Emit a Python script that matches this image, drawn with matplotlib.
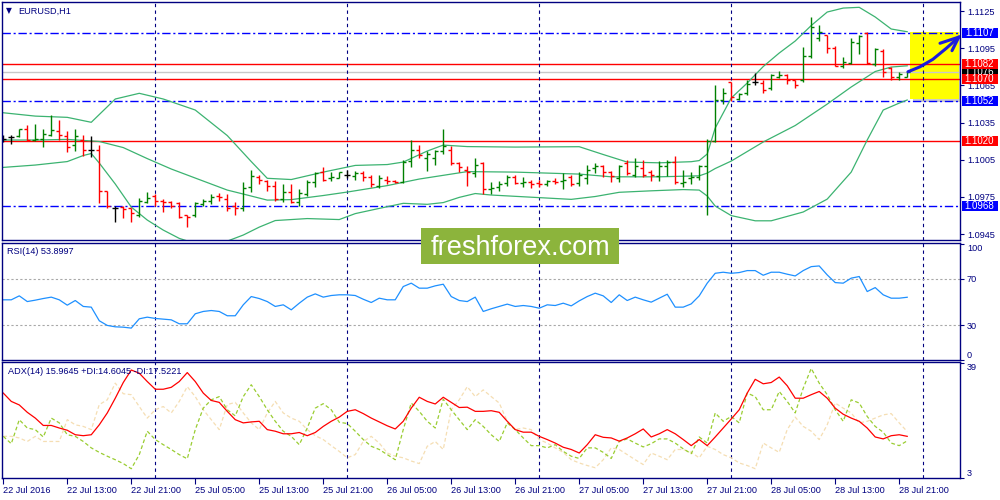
import numpy as np
import matplotlib.pyplot as plt
import matplotlib.transforms as mtransforms
from matplotlib.patches import Rectangle

plt.rcParams['font.family'] = ['Liberation Sans', 'DejaVu Sans']

# EURUSD H1 bars, first bar = 22 Jul 2016 05:00
opens = [1.1022, 1.1023, 1.1024, 1.1030, 1.1021, 1.1022, 1.1025, 1.1028, 1.1024, 1.1017,
         1.1021, 1.1013, 1.1013, 1.0980, 1.0966, 1.0967, 1.0966, 1.0960, 1.0971, 1.0976,
         1.0972, 1.0971, 1.0970, 1.0960, 1.0960, 1.0969, 1.0972, 1.0976, 1.0973, 1.0968,
         1.0966, 1.0983, 1.0991, 1.0988, 1.0984, 1.0973, 1.0979, 1.0971, 1.0977, 1.0987,
         1.0995, 1.0990, 1.0990, 1.0993, 1.0992, 1.0994, 1.0991, 1.0984, 1.0989, 1.0988,
         1.0987, 1.1004, 1.1013, 1.1006, 1.1006, 1.1012, 1.1013, 1.1002, 1.0997, 1.0994,
         1.1002, 1.0981, 1.0983, 1.0986, 1.0991, 1.0986, 1.0987, 1.0986, 1.0985, 1.0988,
         1.0988, 1.0991, 1.0986, 1.0990, 1.0998, 1.1000, 1.0995, 1.0990, 1.1002, 1.0993,
         1.0998, 1.0995, 1.0992, 1.1000, 1.1003, 1.0986, 1.0990, 1.0991, 1.1000, 1.1020,
         1.1053, 1.1068, 1.1054, 1.1059, 1.1068, 1.1067, 1.1063, 1.1072, 1.1073, 1.1069,
         1.1069, 1.1089, 1.1103, 1.1106, 1.1095, 1.1081, 1.1083, 1.1099, 1.1107, 1.1082,
         1.1093, 1.1079, 1.1072, 1.1072]
highs = [1.1025, 1.1025, 1.1030, 1.1033, 1.1034, 1.1030, 1.1041, 1.1037, 1.1028, 1.1030,
         1.1025, 1.1024, 1.1017, 1.0980, 1.0968, 1.0968, 1.0966, 1.0974, 1.0979, 1.0977,
         1.0973, 1.0972, 1.0971, 1.0960, 1.0971, 1.0973, 1.0977, 1.0978, 1.0977, 1.0971,
         1.0987, 1.0997, 1.0993, 1.0989, 1.0988, 1.0985, 1.0985, 1.0981, 1.0989, 1.0995,
         1.0999, 1.0995, 1.0995, 1.0997, 1.0996, 1.0996, 1.0993, 1.0993, 1.0992, 1.0989,
         1.1005, 1.1021, 1.1017, 1.1012, 1.1013, 1.1030, 1.1016, 1.1003, 1.1000, 1.1006,
         1.1003, 1.0987, 1.0988, 1.0993, 1.0993, 1.0991, 1.0989, 1.0989, 1.0989, 1.0990,
         1.0994, 1.0993, 1.0995, 1.1001, 1.1002, 1.1001, 1.0996, 1.1001, 1.1005, 1.1006,
         1.1005, 1.0997, 1.1004, 1.1005, 1.1008, 1.0997, 1.0995, 1.1001, 1.1022, 1.1065,
         1.1063, 1.1068, 1.1059, 1.1069, 1.1075, 1.1069, 1.1074, 1.1077, 1.1074, 1.1069,
         1.1096, 1.1120, 1.1114, 1.1106, 1.1097, 1.1088, 1.1103, 1.1106, 1.1108, 1.1095,
         1.1094, 1.1080, 1.1076, 1.1077]
lows = [1.1019, 1.1018, 1.1023, 1.1020, 1.1020, 1.1015, 1.1024, 1.1021, 1.1011, 1.1012,
        1.1008, 1.1007, 1.0970, 1.0966, 1.0955, 1.0958, 1.0955, 1.0959, 1.0970, 1.0968,
        1.0963, 1.0966, 1.0958, 1.0951, 1.0959, 1.0968, 1.0969, 1.0972, 1.0964, 1.0960,
        1.0964, 1.0979, 1.0985, 1.0980, 1.0972, 1.0971, 1.0970, 1.0968, 1.0976, 1.0983,
        1.0988, 1.0988, 1.0990, 1.0990, 1.0989, 1.0988, 1.0983, 1.0982, 1.0985, 1.0986,
        1.0986, 1.0999, 1.1006, 1.0996, 1.1001, 1.1010, 1.1001, 1.0995, 1.0984, 1.0991,
        1.0977, 1.0977, 1.0980, 1.0984, 1.0985, 1.0983, 1.0982, 1.0983, 1.0984, 1.0985,
        1.0981, 1.0984, 1.0984, 1.0985, 1.0994, 1.0991, 1.0987, 1.0987, 1.0993, 1.0991,
        1.0991, 1.0988, 1.0988, 1.0992, 1.0985, 1.0983, 1.0985, 1.0989, 1.0960, 1.1019,
        1.1050, 1.1052, 1.1053, 1.1057, 1.1065, 1.1059, 1.1061, 1.1071, 1.1066, 1.1063,
        1.1068, 1.1087, 1.1101, 1.1091, 1.1081, 1.1079, 1.1082, 1.1090, 1.1082, 1.1081,
        1.1072, 1.1069, 1.1069, 1.1072]
closes = [1.1022, 1.1023, 1.1030, 1.1021, 1.1022, 1.1026, 1.1029, 1.1025, 1.1015, 1.1024,
          1.1013, 1.1013, 1.0980, 1.0968, 1.0966, 1.0965, 1.0962, 1.0972, 1.0974, 1.0972,
          1.0971, 1.0968, 1.0959, 1.0959, 1.0970, 1.0972, 1.0975, 1.0975, 1.0966, 1.0966,
          1.0982, 1.0992, 1.0989, 1.0984, 1.0973, 1.0979, 1.0971, 1.0978, 1.0987, 1.0994,
          1.0989, 1.0991, 1.0995, 1.0993, 1.0994, 1.0991, 1.0985, 1.0990, 1.0988, 1.0987,
          1.1003, 1.1013, 1.1009, 1.1010, 1.1012, 1.1016, 1.1002, 1.0999, 1.0995, 1.1001,
          1.0981, 1.0982, 1.0985, 1.0991, 1.0986, 1.0987, 1.0985, 1.0985, 1.0988, 1.0987,
          1.0989, 1.0985, 1.0993, 1.0997, 1.1000, 1.0995, 1.0992, 1.1000, 1.0994, 1.1000,
          1.0993, 1.0993, 1.1000, 1.1003, 1.0987, 1.0987, 1.0991, 1.1000, 1.1020, 1.1053,
          1.1059, 1.1056, 1.1058, 1.1066, 1.1068, 1.1061, 1.1073, 1.1073, 1.1069, 1.1065,
          1.1089, 1.1112, 1.1108, 1.1095, 1.1081, 1.1084, 1.1100, 1.1105, 1.1083, 1.1094,
          1.1076, 1.1072, 1.1074, 1.1076]

# Bollinger bands (20, 2), read at selected bars
upper_idx = [0, 4, 8, 11, 14, 17, 20, 24, 28, 31, 33, 36, 40, 44, 48, 50, 53, 55, 58, 64,
             72, 75, 78, 82, 86, 87, 88, 89, 91, 93, 95, 97, 99, 101, 103, 105, 107, 109, 111, 113]
upper_band = [1.10429, 1.10402, 1.10392, 1.10352, 1.10540, 1.10586, 1.10540, 1.10451, 1.10245, 1.10035,
              1.09900, 1.09890, 1.09950, 1.10004, 1.10011, 1.10031, 1.10120, 1.10168, 1.10156, 1.10152,
              1.10155, 1.10092, 1.10031, 1.10025, 1.10034, 1.10043, 1.10096, 1.10306, 1.10548, 1.10669,
              1.10802, 1.10911, 1.11008, 1.11133, 1.11242, 1.11274, 1.11280, 1.11202, 1.11105, 1.11083]
mid_idx = [0, 4, 8, 12, 15, 18, 21, 24, 28, 30, 33, 36, 40, 43, 48, 52, 56, 58, 64, 72,
           76, 82, 87, 88, 89, 91, 95, 99, 103, 106, 109, 111, 113]
mid_band = [1.10209, 1.10209, 1.10214, 1.10197, 1.10148, 1.10059, 1.09975, 1.09902, 1.09805, 1.09773,
            1.09724, 1.09728, 1.09761, 1.09789, 1.09841, 1.09894, 1.09934, 1.09954, 1.09950, 1.09934,
            1.09912, 1.09912, 1.09920, 1.09942, 1.09979, 1.10039, 1.10193, 1.10326, 1.10499, 1.10637,
            1.10762, 1.10798, 1.10808]
low_idx = [0, 4, 8, 10, 11, 12, 14, 16, 18, 20, 22, 25, 28, 30, 32, 34, 38, 42, 44, 47,
           50, 53, 55, 57, 59, 61, 65, 71, 74, 77, 81, 85, 87, 88, 89, 91, 94, 96, 100, 103,
           106, 108, 110, 112, 113]
low_band = [1.09988, 1.10007, 1.10035, 1.10084, 1.10100, 1.10023, 1.09854, 1.09668, 1.09563, 1.09482,
            1.09415, 1.09353, 1.09393, 1.09442, 1.09506, 1.09559, 1.09575, 1.09567, 1.09615, 1.09657,
            1.09698, 1.09690, 1.09704, 1.09746, 1.09777, 1.09765, 1.09751, 1.09730, 1.09753, 1.09787,
            1.09799, 1.09809, 1.09805, 1.09757, 1.09676, 1.09599, 1.09557, 1.09557, 1.09628, 1.09732,
            1.09950, 1.10209, 1.10451, 1.10507, 1.10532]

rsi = [51.7, 51.7, 55.1, 50.2, 51.4, 52.8, 54.0, 51.7, 47.1, 51.1,
       46.0, 45.4, 33.7, 29.7, 28.5, 28.2, 27.4, 35.4, 36.8, 35.7,
       35.1, 34.5, 31.1, 31.1, 39.7, 41.7, 42.5, 41.7, 38.0, 38.0,
       47.4, 54.5, 52.8, 50.2, 46.0, 47.4, 43.1, 48.8, 54.0, 56.8,
       54.0, 55.4, 56.0, 56.0, 55.4, 52.2, 49.4, 53.1, 51.7, 51.7,
       63.1, 66.0, 61.7, 61.7, 63.7, 65.1, 54.5, 51.1, 50.2, 54.0,
       41.7, 44.0, 46.0, 48.0, 46.0, 46.8, 46.0, 44.5, 47.4, 46.8,
       48.8, 46.5, 50.8, 54.5, 57.4, 55.1, 49.4, 56.0, 51.1, 54.0,
       51.7, 49.7, 53.1, 56.5, 45.4, 45.4, 48.2, 55.1, 66.0, 74.5,
       75.4, 74.5, 75.1, 76.8, 76.8, 72.8, 75.4, 75.4, 73.7, 72.2,
       76.8, 80.2, 80.8, 73.1, 66.5, 66.0, 70.3, 71.7, 58.8, 62.2,
       56.0, 53.1, 53.1, 53.9]

adx = [29.5, 26.9, 25.8, 23.5, 21.7, 19.4, 19.4, 18.6, 17.9, 16.5,
       16.2, 16.5, 19.6, 23.3, 27.9, 32.8, 36.7, 35.7, 33.1, 30.7,
       30.7, 31.3, 33.1, 35.9, 33.1, 29.5, 27.2, 26.6, 23.8, 21.2,
       20.2, 20.5, 20.7, 18.1, 17.6, 16.8, 16.8, 17.2, 16.2, 17.2,
       19.1, 20.7, 22.0, 23.8, 24.3, 23.1, 21.7, 20.5, 19.3, 18.3,
       20.7, 24.8, 28.2, 26.9, 26.1, 28.2, 26.6, 25.0, 25.1, 23.8,
       23.8, 24.0, 23.5, 20.7, 18.1, 17.3, 17.3, 16.0, 15.0, 13.9,
       12.6, 11.9, 10.8, 13.4, 16.5, 15.7, 15.5, 14.5, 15.5, 16.8,
       18.3, 15.8, 16.8, 18.1, 16.8, 15.0, 13.1, 15.0, 13.1, 15.8,
       18.6, 21.4, 24.3, 29.5, 33.8, 32.4, 32.8, 34.5, 31.8, 27.9,
       27.9, 29.0, 30.0, 27.9, 24.8, 22.9, 21.7, 20.7, 18.6, 15.8,
       15.2, 16.2, 16.5, 16.0]
plus_di = [16.0, 13.7, 21.2, 18.6, 18.1, 15.8, 21.7, 20.2, 16.5, 16.0,
           14.4, 12.4, 11.0, 9.8, 8.7, 7.5, 5.9, 10.3, 17.6, 15.0,
           13.4, 11.9, 10.3, 9.0, 18.1, 24.8, 27.4, 28.4, 24.3, 22.4,
           28.4, 32.1, 28.4, 24.3, 20.7, 17.6, 16.0, 13.4, 18.6, 24.8,
           26.2, 24.3, 20.4, 20.0, 17.6, 15.0, 12.9, 11.9, 10.3, 8.7,
           18.1, 26.4, 23.8, 20.7, 18.6, 27.6, 24.3, 21.2, 18.1, 21.2,
           19.1, 16.5, 14.4, 20.2, 18.1, 15.5, 13.1, 13.1, 12.4, 13.4,
           11.3, 9.8, 9.1, 12.4, 12.4, 11.0, 9.1, 14.4, 15.2, 13.9,
           12.7, 13.7, 15.2, 15.2, 13.9, 12.1, 10.6, 15.8, 13.9, 23.3,
           20.7, 22.2, 20.2, 29.5, 28.4, 24.3, 24.3, 30.0, 26.9, 23.3,
           31.0, 37.2, 32.6, 29.0, 24.3, 20.7, 27.4, 26.4, 22.2, 19.1,
           17.3, 13.9, 13.1, 14.6]
minus_di = [16.0, 16.0, 15.5, 14.4, 16.0, 14.4, 14.4, 14.4, 21.2, 19.6,
            19.1, 18.1, 25.9, 27.4, 32.6, 29.3, 29.0, 25.3, 21.7, 24.3,
            25.3, 23.3, 26.9, 31.5, 28.4, 24.3, 21.2, 18.1, 25.9, 26.6,
            23.3, 20.2, 18.1, 23.3, 26.9, 23.3, 21.7, 20.7, 18.1, 16.2,
            15.0, 13.1, 11.3, 9.3, 10.3, 14.4, 16.0, 13.9, 10.8, 9.8,
            9.3, 8.3, 7.5, 12.9, 14.4, 11.9, 24.3, 27.4, 31.5, 28.4,
            30.5, 28.4, 26.4, 20.7, 18.1, 18.6, 18.1, 15.0, 13.9, 12.4,
            11.0, 8.7, 7.7, 6.9, 6.2, 8.7, 12.4, 11.9, 10.3, 8.7,
            7.2, 10.8, 9.8, 8.7, 11.9, 11.9, 11.0, 9.3, 12.9, 11.9,
            10.3, 9.3, 7.7, 6.9, 5.9, 13.9, 12.4, 11.0, 18.1, 22.0,
            19.1, 17.6, 15.0, 19.6, 26.4, 24.8, 23.3, 20.2, 20.7, 21.7,
            22.7, 23.1, 20.2, 17.5]

date_ticks = [0, 8, 16, 24, 32, 40, 48, 56, 64, 72, 80, 88, 96, 104, 112]
date_labels = ['22 Jul 2016', '22 Jul 13:00', '22 Jul 21:00', '25 Jul 05:00', '25 Jul 13:00',
               '25 Jul 21:00', '26 Jul 05:00', '26 Jul 13:00', '26 Jul 21:00', '27 Jul 05:00',
               '27 Jul 13:00', '27 Jul 21:00', '28 Jul 05:00', '28 Jul 13:00', '28 Jul 21:00']
day_starts = [19, 43, 67, 91, 115]          # bars at 00:00

price_ticks = [1.0945, 1.0975, 1.1005, 1.1035, 1.1065, 1.1095, 1.1125]
blue_levels = [1.1107, 1.1052, 1.0968]
red_levels = [1.1082, 1.1070, 1.1020]
bid = 1.1076
rsi_levels = [70, 30]

# hand-drawn forecast box and arrow
box_x = (113.35, 119.5)
box_y = (1.1054, 1.1108)
arrow_x = [113.1, 114.6, 116.2, 117.9, 119.45]
arrow_y = [1.1076, 1.1080, 1.1086, 1.1095, 1.1104]
head_x = [117.1, 119.45, 118.6]
head_y = [1.1099, 1.1104, 1.1093]

NAVY = '#000080'
UP, DOWN = '#008000', '#FF0000'
SMALL = 6.6

fig = plt.figure(figsize=(10, 5), dpi=100)
fig.patch.set_facecolor('white')


def rect(l, t, r, b):
    return [l / 1000, 1 - b / 500, (r - l) / 1000, (b - t) / 500]


ax = fig.add_axes(rect(2, 2, 960, 240))
ax_rsi = fig.add_axes(rect(2, 243, 960, 360))
ax_adx = fig.add_axes(rect(2, 362, 960, 478))

for a in (ax, ax_rsi, ax_adx):
    a.set_xlim(-0.16, 119.6)
    for s in a.spines.values():
        s.set_color(NAVY)
        s.set_linewidth(1.0)
    a.yaxis.tick_right()
    a.tick_params(axis='y', colors=NAVY, labelcolor=NAVY, labelsize=SMALL,
                  length=3, width=0.8, pad=2)
    a.tick_params(axis='x', bottom=False, labelbottom=False)
    for d in day_starts:
        a.axvline(d, color=NAVY, lw=0.8, ls=(0, (3, 3)), zorder=1)

# ---- main price panel ----
ax.set_ylim(1.09402, 1.11323)
ax.set_yticks(price_ticks)
ax.set_yticklabels(['%.4f' % p for p in price_ticks])

# forecast box with its shadow
ax.add_patch(Rectangle((box_x[0] + 0.4, box_y[0] - 0.00028), box_x[1] - box_x[0],
                       box_y[1] - box_y[0], facecolor='#808080', alpha=0.4,
                       edgecolor='none', zorder=0.6))
ax.add_patch(Rectangle((box_x[0], box_y[0]), box_x[1] - box_x[0], box_y[1] - box_y[0],
                       facecolor='#FFFF00', edgecolor='none', zorder=0.7))

for p in blue_levels:
    ax.axhline(p, color='#0000FF', lw=1.0, ls=(0, (6, 2, 1.5, 2)), zorder=0.9)
for p in red_levels:
    ax.axhline(p, color='#FF0000', lw=1.0, zorder=0.9)
ax.axhline(bid, color='#C8C8C8', lw=1.0, zorder=0.8)

ax.plot(upper_idx, upper_band, color='#3CB371', lw=0.9, zorder=1.5)
ax.plot(mid_idx, mid_band, color='#3CB371', lw=0.9, zorder=1.5)
ax.plot(low_idx, low_band, color='#3CB371', lw=0.9, zorder=1.5)

o, h, l, c = map(np.array, (opens, highs, lows, closes))
x = np.arange(len(o))
cols = np.where(c > o, UP, np.where(c < o, DOWN, 'black'))
ax.vlines(x, l, h, colors=cols, lw=1.0, zorder=2)
ax.hlines(o, x - 0.38, x, colors=cols, lw=1.0, zorder=2)
ax.hlines(c, x, x + 0.38, colors=cols, lw=1.0, zorder=2)

ax.plot(arrow_x, arrow_y, color='#1C1CDC', lw=2.2, solid_capstyle='round', zorder=3)
ax.plot(head_x, head_y, color='#1C1CDC', lw=2.2, solid_capstyle='round',
        solid_joinstyle='miter', zorder=3)

# price labels of the levels on the right scale (bid label sits underneath)
lab = mtransforms.blended_transform_factory(fig.transFigure, ax.transData)
hh = 10 / 12389
tags = [(bid, '#000000')] + [(p, '#0000FF') for p in blue_levels] + \
       [(p, '#FF0000') for p in red_levels]
for k, (p, col) in enumerate(tags):
    z = 10 + 2 * k
    ax.add_patch(Rectangle((0.9615, p - hh / 2), 0.036, hh, transform=lab,
                           facecolor=col, edgecolor='none', clip_on=False, zorder=z))
    ax.text(0.9795, p, '%.4f' % p, transform=lab, color='white', fontsize=7,
            ha='center', va='center', clip_on=False, zorder=z + 1)

# ---- RSI ----
ax_rsi.set_ylim(0, 100.5)
ax_rsi.plot(x, rsi, color='#1E90FF', lw=0.9, zorder=2)
for v in rsi_levels:
    ax_rsi.axhline(v, color='#A8A8A8', lw=0.8, ls=(0, (2, 2)), zorder=1)
ax_rsi.set_yticks([0, 30, 70, 100])
ax_rsi.set_yticklabels(['0', '30', '70', '100'])
lbls = ax_rsi.get_yticklabels()
lbls[0].set_va('bottom')
lbls[-1].set_va('top')

# ---- ADX ----
ax_adx.set_ylim(3, 39.2)
ax_adx.plot(x, minus_di, color='#F5DEB3', lw=0.9, ls=(0, (3, 2)), zorder=1.6)
ax_adx.plot(x, plus_di, color='#9ACD32', lw=0.9, ls=(0, (3, 2)), zorder=1.7)
ax_adx.plot(x, adx, color='#FF0000', lw=0.9, zorder=2)
ax_adx.set_yticks([3, 39])
ax_adx.set_yticklabels(['3', '39'])
lbls = ax_adx.get_yticklabels()
lbls[0].set_va('bottom')
lbls[1].set_va('top')

ax_adx.tick_params(axis='x', bottom=True, labelbottom=True, direction='out', length=4,
                   width=0.8, colors=NAVY, labelcolor=NAVY, labelsize=SMALL, pad=2)
ax_adx.set_xticks(date_ticks)
ax_adx.set_xticklabels(date_labels)
for t in ax_adx.get_xticklabels():
    t.set_ha('left')

# ---- captions ----
fig.text(0.006, 1 - 11 / 500, '\u25bc', fontsize=5.5, color=NAVY, va='center',
         family='DejaVu Sans')
fig.text(0.018, 1 - 11 / 500, 'EURUSD,H1', fontsize=SMALL, color=NAVY, va='center')
fig.text(0.007, 1 - 251 / 500, 'RSI(14) 53.8997', fontsize=SMALL, color=NAVY, va='center')
fig.text(0.008, 1 - 372 / 500, 'ADX(14) 15.9645 +DI:14.6045 -DI:17.5221',
         fontsize=SMALL, color=NAVY, va='center')

# watermark
fig.add_artist(Rectangle((0.421, 1 - 264 / 500), 0.198, 36 / 500, transform=fig.transFigure,
                         facecolor='#8CB43C', edgecolor='none', zorder=20))
fig.text(0.52, 1 - 255 / 500, 'freshforex.com', fontsize=19.5, color='white',
         ha='center', va='baseline', zorder=21)

fig.savefig('out.png', dpi=100)
